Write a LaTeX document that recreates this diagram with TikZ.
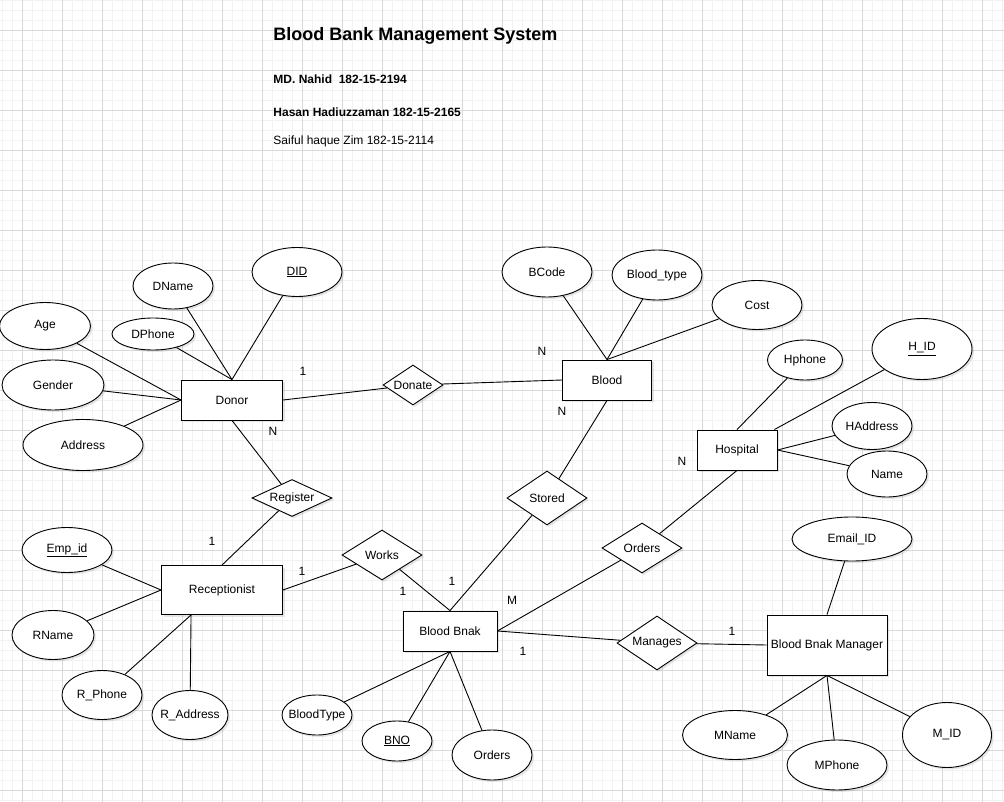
\documentclass[tikz,border=0pt]{standalone}
\usepackage{fontspec}
\setmainfont{Liberation Sans}
\usepackage{tikz}
\usetikzlibrary{arrows}
\usetikzlibrary{positioning}
\usetikzlibrary{shapes.geometric,shadows}

\begin{document}
\begin{tikzpicture}
	[x=1pt,y=-1pt,line width=0.9pt,font=\fontsize{12}{14}\selectfont,
	shd/.style={drop shadow={shadow xshift=2pt,shadow yshift=-2pt,opacity=0.2}},
	ent/.style={rectangle,draw,fill=white,inner sep=0pt,shd},
	attr/.style={ellipse,draw,fill=white,inner sep=0pt,shd},
	rel/.style={diamond,draw,fill=white,inner sep=0pt,aspect=2,shd},
	card/.style={inner sep=0pt},
	head/.style={anchor=base west,inner sep=0pt}]
	\useasboundingbox (0,0) rectangle (1004,802);
	% grid
	\foreach \x in {2,12,...,1002} \draw[black!5,line width=0.6pt] (\x,0) -- (\x,802);
	\foreach \y in {0,10,...,800} \draw[black!5,line width=0.6pt] (0,\y) -- (1004,\y);
	\foreach \x in {22,62,...,982} \draw[black!15,line width=0.6pt] (\x,0) -- (\x,802);
	\foreach \y in {30,70,...,790} \draw[black!15,line width=0.6pt] (0,\y) -- (1004,\y);
	
	% heading
	\node[head,font=\bfseries\fontsize{18}{20}\selectfont] (title) at (273,41) {Blood Bank Management System};
	\node[head,font=\bfseries\fontsize{12}{14}\selectfont] (st1) at (273,84) {MD. Nahid\ \ 182-15-2194};
	\node[head,font=\bfseries\fontsize{12}{14}\selectfont] (st2) at (273,117) {Hasan Hadiuzzaman 182-15-2165};
	\node[head] (st3) at (273,145) {Saiful haque Zim 182-15-2114};
	
	% entities
	\node[ent,minimum width=101pt,minimum height=40pt] (donor) at (232,400) {Donor};
	\node[ent,minimum width=89pt,minimum height=40pt] (blood) at (607,380) {Blood};
	\node[ent,minimum width=80pt,minimum height=40pt] (hosp) at (737,450) {Hospital};
	\node[ent,minimum width=121pt,minimum height=49pt] (recep) at (222,590) {Receptionist};
	\node[ent,minimum width=94pt,minimum height=40pt] (bnak) at (450,631) {Blood Bnak};
	\node[ent,minimum width=120pt,minimum height=60pt] (mgr) at (827,645) {Blood Bnak Manager};
	\coordinate[right=30pt of recep.south west] (recb);
	
	% relationships
	\node[rel,aspect=1.5,minimum width=60pt,minimum height=40pt] (donate) at (413,385) {Donate};
	\node[rel,minimum width=80pt,minimum height=37pt] (reg) at (292,498) {Register};
	\node[rel,minimum width=80pt,minimum height=50pt] (works) at (382,555) {Works};
	\node[rel,minimum width=80pt,minimum height=54pt] (stored) at (547,498) {Stored};
	\node[rel,minimum width=80pt,minimum height=50pt] (ordrel) at (642,548) {Orders};
	\node[rel,minimum width=80pt,minimum height=54pt] (manages) at (657,643) {Manages};
	
	% attributes
	\node[attr,minimum width=80pt,minimum height=46pt] (dname) at (173,286) {DName};
	\node[attr,minimum width=90pt,minimum height=49pt] (did) at (297,272) {\underline{DID}};
	\node[attr,minimum width=91pt,minimum height=47pt] (age) at (45,326) {Age};
	\node[attr,minimum width=82pt,minimum height=32pt] (dphone) at (153,334) {DPhone};
	\node[attr,minimum width=102pt,minimum height=50pt] (gender) at (53,385) {Gender};
	\node[attr,minimum width=120pt,minimum height=51pt] (addr) at (83,445) {Address};
	\node[attr,minimum width=90pt,minimum height=50pt] (bcode) at (547,272) {BCode};
	\node[attr,minimum width=90pt,minimum height=50pt] (btype) at (657,275) {Blood\_type};
	\node[attr,minimum width=90pt,minimum height=49pt] (cost) at (757,305) {Cost};
	\node[attr,minimum width=75pt,minimum height=40pt] (hphone) at (805,360) {Hphone};
	\node[attr,minimum width=100pt,minimum height=61pt] (hid) at (922,349) {\underline{H\_ID}};
	\node[attr,minimum width=80pt,minimum height=47pt] (haddr) at (872,426) {\makebox[30pt]{HAddress}};
	\node[attr,minimum width=80pt,minimum height=46pt] (hname) at (887,474) {Name};
	\node[attr,minimum width=90pt,minimum height=45pt] (empid) at (67,550) {\underline{Emp\_id}};
	\node[attr,minimum width=82pt,minimum height=49pt] (rname) at (53,635) {RName};
	\node[attr,minimum width=80pt,minimum height=49pt] (rphone) at (102,695) {R\_Phone};
	\node[attr,minimum width=76pt,minimum height=49pt] (raddr) at (190,715) {\makebox[30pt]{R\_Address}};
	\node[attr,minimum width=70pt,minimum height=40pt] (bltype) at (317,715) {\makebox[30pt]{BloodType}};
	\node[attr,minimum width=70pt,minimum height=40pt] (bno) at (397,741) {\underline{BNO}};
	\node[attr,minimum width=80pt,minimum height=50pt] (bord) at (492,755) {Orders};
	\node[attr,minimum width=120pt,minimum height=44pt] (email) at (852,539) {Email\_ID};
	\node[attr,minimum width=105pt,minimum height=49pt] (mname) at (735,735) {MName};
	\node[attr,minimum width=100pt,minimum height=50pt] (mphone) at (837,765) {MPhone};
	\node[attr,minimum width=89pt,minimum height=65pt] (mid) at (947,735) {M\_ID};
	
	% cardinalities
	\node[card] (c1) at (303,371) {1};
	\node[card] (c2) at (542,351) {N};
	\node[card] (c3) at (273,431) {N};
	\node[card] (c4) at (212,541) {1};
	\node[card] (c5) at (302,571) {1};
	\node[card] (c6) at (403,591) {1};
	\node[card] (c7) at (452,581) {1};
	\node[card] (c8) at (562,411) {N};
	\node[card] (c9) at (512,600) {M};
	\node[card] (c10) at (682,461) {N};
	\node[card] (c11) at (523,651) {1};
	\node[card] (c12) at (732,631) {1};
	
	\foreach \from/\to in 
	{age/donor.west, gender/donor.west, addr/donor.west, dname/donor.north,
	dphone/donor.north, did/donor.north, donor.east/donate, donate/blood.west,
	bcode/blood.north, btype/blood.north, cost/blood.north, donor.south/reg,
	reg/recep.north, empid/recep.west, rname/recep.west, rphone/recb, raddr/recb,
	recep.east/works, works/bnak.north, bnak.north/stored, stored/blood.south,
	bnak.east/ordrel, ordrel/hosp.south, bnak.east/manages, manages/mgr.west,
	hphone/hosp.north, hid/hosp, haddr/hosp.east, hname/hosp.east,
	bltype/bnak.south, bno/bnak.south, bord/bnak.south,
	email/mgr.north, mname/mgr.south, mphone/mgr.south, mid/mgr.south}
	\draw (\from) -- (\to);
\end{tikzpicture}
\end{document}
